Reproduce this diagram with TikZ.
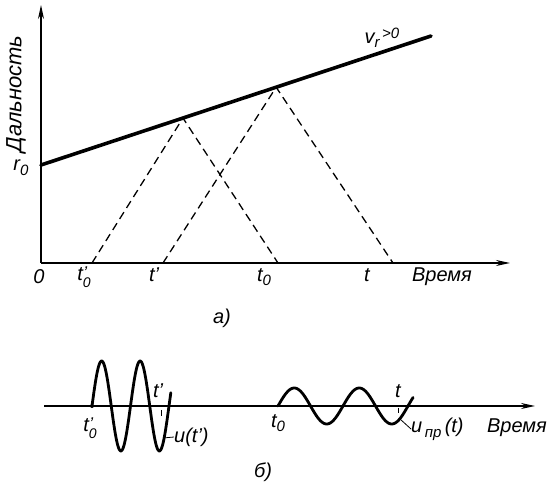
\documentclass[tikz,border=0pt]{standalone}
\usepackage{fontspec}
\setmainfont{Liberation Sans}
\usetikzlibrary{arrows.meta,calc}
\newcommand{\subfont}{\fontsize{15}{15}\selectfont}
\newcommand{\tprimezero}{t\rlap{\raisebox{0.2ex}{\kern0.5pt\fontsize{17}{17}\selectfont'}}\raisebox{-0.6ex}{\fontsize{14}{14}\selectfont 0}}
\newcommand{\tzero}{t\raisebox{-0.45ex}{\subfont 0}}
\begin{document}
\begin{tikzpicture}[x=1pt,y=-1pt,
  axisline/.style={line width=1.4pt},
  rangeline/.style={line width=3.6pt, line cap=round},
  ray/.style={line width=1.3pt, dash pattern=on 8pt off 5pt},
  wave/.style={line width=2.8pt, line join=round, line cap=round},
  thin/.style={line width=0.8pt},
  lbl/.style={font=\itshape\fontsize{20}{20}\selectfont, inner sep=0pt},
  tip/.style={-{Stealth[length=14pt,width=6pt]}}]
\useasboundingbox (0,0) rectangle (550,489);
% ---------- part a ----------
\coordinate (O) at (41,263);
\coordinate (Ytop) at (41,5);
\coordinate (Xend) at (510,263);
\draw[axisline,tip] (O) -- (Ytop);
\draw[axisline,tip] (O) -- (Xend);
\coordinate (A) at (41,165);
\coordinate (B) at (431,36);
\draw[rangeline] (A) -- (B);
\coordinate (P1) at ($(A)!0.364!(B)$);
\coordinate (P2) at ($(A)!0.603!(B)$);
\coordinate (F1) at (92,263);
\coordinate (F2) at (163,263);
\coordinate (F3) at (278,263);
\coordinate (F4) at (393,263);
\draw[ray] (F1) -- (P1) -- (F3);
\draw[ray] (F2) -- (P2) -- (F4);
\node[lbl, rotate=90, font=\itshape\fontsize{22}{22}\selectfont] (dal) at (16,94) {Дальность};
\node[lbl] (r0) at (21,168) {r\raisebox{-0.45ex}{\subfont 0}};
\node[lbl] (vr) at (382,38) {v\raisebox{-0.45ex}{\subfont r}\raisebox{0.45ex}{\subfont\,>0}};
\node[lbl] (l0) at (39,277) {0};
\node[lbl] (lt0p) at (84,277) {\tprimezero};
\node[lbl] (ltp) at (154,275) {t'};
\node[lbl] (lt0) at (264,277) {\tzero};
\node[lbl] (lt) at (367,275) {t};
\node[lbl] (vrem) at (442,277) {Время};
\node[lbl] (pa) at (222,318) {а)};
% ---------- part b ----------
\coordinate (O2) at (44,406);
\coordinate (X2) at (535,406);
\draw[axisline,tip] (O2) -- (X2);
\draw[wave] plot[domain=0:2.05, samples=160] ({92+38.5*\x},{406-45*sin(360*\x)});
\fill (92,406) circle (2pt);
\draw[wave] plot[domain=0:2.08, samples=140] ({278+65*\x},{406-18*sin(360*\x)});
% ticks and leaders
\coordinate (k1a) at (161,410);
\coordinate (k1b) at (161,416);
\draw[thin] (k1a) -- (k1b);
\coordinate (k2a) at (398,408);
\coordinate (k2b) at (398,413);
\draw[thin] (k2a) -- (k2b);
\coordinate (w1) at (163,438);
\coordinate (w2) at (400,419);
\node[lbl, anchor=west] (ut) at (174,437) {u(t')};
\node[lbl, anchor=west] (upr) at (411,429) {u\raisebox{-0.45ex}{\subfont\,пр}\,(t)};
\draw[thin] (w1) -- (ut.west);
\draw[thin] (w2) -- (upr.west);
\node[lbl] (bt0p) at (90,428) {\tprimezero};
\node[lbl] (btp) at (158,391) {t'};
\node[lbl] (bt0) at (278,423) {\tzero};
\node[lbl] (bt) at (398,391) {t};
\node[lbl] (bvrem) at (517,428) {Время};
\node[lbl] (pb) at (263,472) {б)};
\end{tikzpicture}
\end{document}
